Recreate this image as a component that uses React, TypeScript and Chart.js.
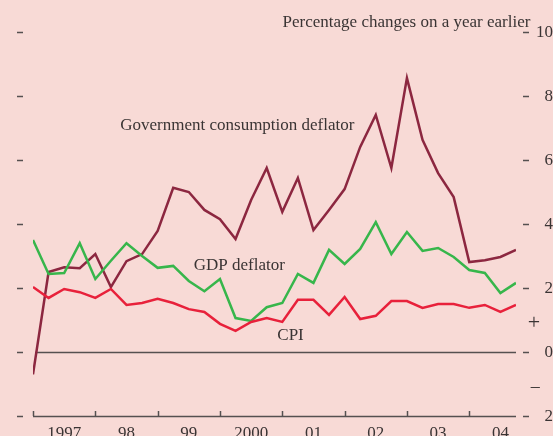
import React, { useEffect, useRef } from "react";
import { Chart, registerables } from "chart.js";
Chart.register(...registerables);

const quarters = [
  "1997 Q1", "1997 Q2", "1997 Q3", "1997 Q4",
  "1998 Q1", "1998 Q2", "1998 Q3", "1998 Q4",
  "1999 Q1", "1999 Q2", "1999 Q3", "1999 Q4",
  "2000 Q1", "2000 Q2", "2000 Q3", "2000 Q4",
  "2001 Q1", "2001 Q2", "2001 Q3", "2001 Q4",
  "2002 Q1", "2002 Q2", "2002 Q3", "2002 Q4",
  "2003 Q1", "2003 Q2", "2003 Q3", "2003 Q4",
  "2004 Q1", "2004 Q2", "2004 Q3", "2004 Q4",
];

const govDeflator = [
  -0.7, 2.5, 2.65, 2.62, 3.06, 2.03, 2.84, 3.06,
  3.78, 5.13, 5.0, 4.44, 4.15, 3.53, 4.75, 5.75,
  4.38, 5.44, 3.81, 4.44, 5.09, 6.41, 7.41, 5.75,
  8.56, 6.63, 5.59, 4.84, 2.81, 2.87, 2.97, 3.19,
];

const gdpDeflator = [
  3.5, 2.44, 2.47, 3.4, 2.28, 2.85, 3.4, 3.0,
  2.63, 2.69, 2.22, 1.9, 2.28, 1.06, 0.97, 1.4,
  1.53, 2.44, 2.16, 3.19, 2.75, 3.22, 4.06, 3.06,
  3.75, 3.16, 3.25, 2.97, 2.56, 2.47, 1.84, 2.16,
];

const cpi = [
  2.03, 1.69, 1.97, 1.87, 1.69, 1.97, 1.47, 1.53,
  1.66, 1.53, 1.34, 1.25, 0.88, 0.66, 0.94, 1.06,
  0.94, 1.63, 1.63, 1.16, 1.72, 1.03, 1.13, 1.59,
  1.59, 1.38, 1.5, 1.5, 1.38, 1.47, 1.25, 1.47,
];

const yearTicks = [1997, 1998, 1999, 2000, 2001, 2002, 2003, 2004];
const yearLabels = ["1997", "98", "99", "2000", "01", "02", "03", "04"];
const yTicks = [-2, 0, 2, 4, 6, 8, 10];

const annotations = [
  { text: "Percentage changes on a year earlier", x: 2004.98, y: 10.31, align: "right" },
  { text: "Government consumption deflator", x: 1998.4, y: 7.09, align: "left" },
  { text: "GDP deflator", x: 1999.58, y: 2.69, align: "left" },
  { text: "CPI", x: 2000.92, y: 0.5, align: "left" },
];

const BG = "#f8dad6";
const TEXT = "#3a3434";
const AXIS = "#555050";
const FONT = "'Liberation Serif', 'Times New Roman', serif";

const toX = (q: string) => {
  const [yr, qq] = q.split(" Q");
  return Number(yr) + (Number(qq) - 1) / 4;
};

const decorPlugin = {
  id: "decor",
  beforeDraw(chart: any) {
    const { ctx, width, height } = chart;
    ctx.save();
    ctx.fillStyle = BG;
    ctx.fillRect(0, 0, width, height);
    const xs = chart.scales.x;
    const ys = chart.scales.y;
    const { left, right, bottom } = chart.chartArea;
    ctx.strokeStyle = AXIS;
    ctx.lineWidth = 1.5;
    // zero line
    const y0 = Math.round(ys.getPixelForValue(0)) + 0.5;
    ctx.beginPath();
    ctx.moveTo(left + 2, y0);
    ctx.lineTo(right, y0);
    ctx.stroke();
    // x axis line
    const yb = Math.round(bottom) + 0.5;
    ctx.beginPath();
    ctx.moveTo(left, yb);
    ctx.lineTo(right, yb);
    ctx.stroke();
    ctx.restore();
  },
  afterDraw(chart: any) {
    const { ctx } = chart;
    const xs = chart.scales.x;
    const ys = chart.scales.y;
    const { bottom } = chart.chartArea;
    ctx.save();
    ctx.strokeStyle = AXIS;
    ctx.lineWidth = 1.5;
    yTicks.forEach((v) => {
      const py = Math.round(ys.getPixelForValue(v)) + 0.5;
      ctx.beginPath();
      ctx.moveTo(17, py);
      ctx.lineTo(23, py);
      ctx.moveTo(523, py);
      ctx.lineTo(529, py);
      ctx.stroke();
    });
    yearTicks.forEach((yr) => {
      const px = Math.round(xs.getPixelForValue(yr)) + 0.5;
      ctx.beginPath();
      ctx.moveTo(px, bottom);
      ctx.lineTo(px, bottom - 5);
      ctx.stroke();
    });
    ctx.fillStyle = TEXT;
    ctx.font = `17px ${FONT}`;
    // y labels
    ctx.textAlign = "right";
    ctx.textBaseline = "middle";
    yTicks.forEach((v) => {
      ctx.fillText(String(Math.abs(v)), 553, ys.getPixelForValue(v) + 1);
    });
    // x labels
    ctx.textAlign = "center";
    ctx.textBaseline = "top";
    yearTicks.forEach((yr, i) => {
      ctx.fillText(yearLabels[i], xs.getPixelForValue(yr + 0.5), bottom + 9);
    });
    // annotations
    ctx.textBaseline = "middle";
    annotations.forEach((a) => {
      ctx.textAlign = a.align as CanvasTextAlign;
      ctx.fillText(a.text, xs.getPixelForValue(a.x), ys.getPixelForValue(a.y));
    });
    ctx.textAlign = "center";
    ctx.font = `22px ${FONT}`;
    ctx.fillText("+", xs.getPixelForValue(2005.04), ys.getPixelForValue(0.9));
    ctx.font = `18px ${FONT}`;
    ctx.fillText("\u2013", xs.getPixelForValue(2005.06), ys.getPixelForValue(-1.1));
    ctx.restore();
  },
};

export default function App() {
  const ref = useRef<HTMLCanvasElement | null>(null);
  useEffect(() => {
    if (!ref.current) return;
    const mk = (vals: number[]) => quarters.map((q, i) => ({ x: toX(q), y: vals[i] }));
    const chart = new Chart(ref.current, {
      type: "line",
      data: {
        datasets: [
          { label: "CPI", data: mk(cpi), borderColor: "#e8213b", borderWidth: 2.5, pointRadius: 0, tension: 0 },
          { label: "GDP deflator", data: mk(gdpDeflator), borderColor: "#37b64b", borderWidth: 2.5, pointRadius: 0, tension: 0 },
          { label: "Government consumption deflator", data: mk(govDeflator), borderColor: "#8c2740", borderWidth: 2.5, pointRadius: 0, tension: 0 },
        ],
      },
      options: {
        animation: false,
        responsive: false,
        devicePixelRatio: 1,
        layout: { padding: { left: 33, top: 32, right: 37, bottom: 20 } },
        plugins: { legend: { display: false }, tooltip: { enabled: false } },
        scales: {
          x: { type: "linear", display: false, min: 1997, max: 2004.75 },
          y: { display: false, min: -2, max: 10 },
        },
      },
      plugins: [decorPlugin],
    });
    return () => chart.destroy();
  }, []);
  return (
    <canvas
      ref={ref}
      width={553}
      height={436}
      style={{ position: "fixed", left: 0, top: 0, display: "block", width: 553, height: 436 }}
    />
  );
}
